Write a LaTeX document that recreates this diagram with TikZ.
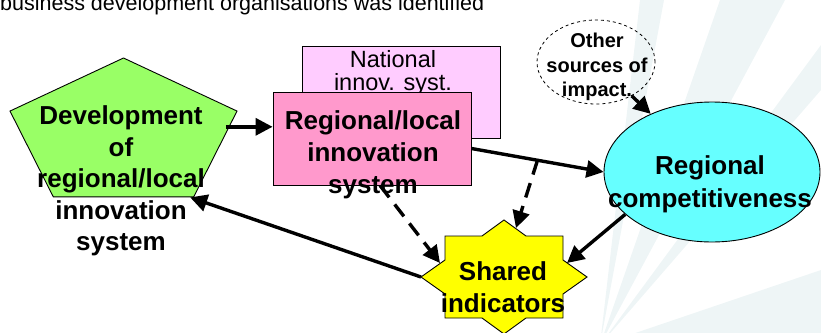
\documentclass[tikz,border=0pt]{standalone}
\usepackage{fontspec}
\setmainfont{Liberation Sans}
\usetikzlibrary{arrows.meta,shapes.geometric,calc}

\definecolor{devgreen}{RGB}{153,255,102}
\definecolor{regpink}{RGB}{255,153,204}
\definecolor{natpink}{RGB}{255,204,255}
\definecolor{compcyan}{RGB}{102,255,255}
\definecolor{sharedyellow}{RGB}{255,255,0}
\definecolor{raygrey}{RGB}{238,245,246}

\begin{document}
\begin{tikzpicture}[x=1pt, y=-1pt, >={Triangle[length=17pt,width=17pt]},
  bigtxt/.style={font=\fontsize{26}{31.5}\selectfont\bfseries, align=center, inner sep=0pt},
  conn/.style={->, line width=3.4pt},
  dconn/.style={conn, dash pattern=on 15pt off 9pt},
  boxline/.style={draw=black, line width=0.9pt}]
  \useasboundingbox (0,0) rectangle (821,332);
  \clip (0,0) rectangle (821,332);

  % background rays
  \fill[raygrey] (600,345) -- (640,0) -- (664,0) -- cycle;
  \fill[raygrey] (600,345) -- (720,0) -- (785,0) -- cycle;
  \fill[raygrey] (600,345) -- (821,45) -- (821,90) -- cycle;
  \fill[raygrey] (600,345) -- (821,270) -- (821,345) -- cycle;

  % caption line (cut at the top)
  \node[font=\fontsize{21.5}{24}\selectfont, anchor=base west, inner sep=0pt] (caption) at (0,10.5)
    {business development organisations was identified};

  % shapes
  \begin{scope}[shift={(123.5,134.8)}, xscale=1.554]
    \node[regular polygon, regular polygon sides=5, minimum size=153.6pt, inner sep=0pt,
      boxline, fill=devgreen, transform shape] (dev) at (0,0) {};
  \end{scope}
  \node[inner sep=0pt] (shared) at (504,277) {};
  \draw[boxline, fill=sharedyellow, shift={(shared)}]
    (0,-57) -- (22,-41) -- (59,-41) -- (59,-17) -- (83,0) -- (59,17) -- (59,41) -- (22,41)
    -- (0,57) -- (-22,41) -- (-59,41) -- (-59,17) -- (-83,0) -- (-59,-17) -- (-59,-41) -- (-22,-41) -- cycle;
  \node[boxline, fill=natpink, minimum width=198pt, minimum height=92pt, inner sep=0pt] (nat) at (401,92) {};
  \node[font=\fontsize{23.5}{23}\selectfont, align=center, inner sep=0pt] (nattxt) at (393,73)
    {National\\innov. syst.};
  \node[boxline, fill=regpink, minimum width=198pt, minimum height=93pt, inner sep=0pt] (reg) at (372,138.5) {};
  \node[ellipse, draw, dashed, line width=0.8pt, minimum width=118pt, minimum height=84pt, inner sep=0pt] (other) at (596,62) {};
  \node[ellipse, boxline, fill=compcyan, minimum width=216pt, minimum height=140pt, inner sep=0pt] (comp) at (712,172) {};

  % connectors
  \draw[conn] ([yshift=8pt]dev.east) -- ([yshift=8pt]dev.east -| reg.west);
  \draw[conn] ([yshift=-10pt]reg.east) -- coordinate (mid) (comp.west);
  \draw[dconn] (mid) -- ($(shared)+(12pt,49pt)$);
  \draw[dconn] ([xshift=8pt]reg.south) -- ($(shared)+(-64pt,14pt)$);
  \draw[conn] (comp.206) -- ($(shared)+(63pt,14pt)$);
  \draw[conn] ($(shared)+(-83pt,0pt)$) -- ([xshift=-4pt]dev.corner 4);
  \draw[conn] (other) -- (comp);

  % labels
  \node[bigtxt] (devtxt) at (121,181) {Development\\of\\regional/local\\innovation\\system};
  \node[bigtxt, font=\fontsize{26}{32}\selectfont\bfseries] (regtxt) at (373,155) {Regional/local\\innovation\\system};
  \node[font=\fontsize{20}{24.5}\selectfont\bfseries, align=center, inner sep=0pt] (othertxt) at (597,67)
    {Other\\sources of\\impact.};
  \node[bigtxt, font=\fontsize{26}{33}\selectfont\bfseries] (comptxt) at (710,184) {Regional\\competitiveness};
  \node[bigtxt] (sharedtxt) at (503,287) {Shared\\indicators};
\end{tikzpicture}
\end{document}
